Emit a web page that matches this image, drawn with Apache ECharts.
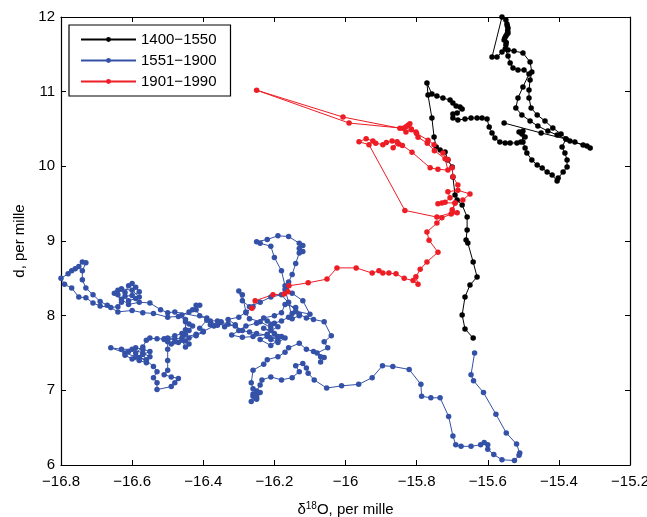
<!DOCTYPE html>
<html lang="en">
<head>
  <meta charset="UTF-8">
  <title>d vs d18O</title>
  <style>
    html, body { margin: 0; padding: 0; background: #fff; }
    #main { width: 647px; height: 517px; }
  </style>
</head>
<body>
<div id="main"></div>
<script src="https://cdn.jsdelivr.net/npm/echarts@6/dist/echarts.min.js"></script>
<script>
  // 读图得到的数据 [d18O, d]
  const seriesNames = ['1400−1550', '1551−1900', '1901−1990'];
  const xTicks = [-16.8, -15.2, 0.2];
  const yTicks = [6, 12, 1];

  const black = [
    [-15.554, 10.58], [-15.450, 10.447], [-15.380, 10.366], [-15.355, 10.326], [-15.332, 10.286],
    [-15.312, 10.246], [-15.321, 10.272], [-15.369, 10.339], [-15.394, 10.433], [-15.417, 10.514],
    [-15.439, 10.607], [-15.461, 10.688], [-15.478, 10.781], [-15.484, 10.915], [-15.484, 11.022],
    [-15.481, 11.156], [-15.476, 11.263], [-15.481, 11.397], [-15.501, 11.518], [-15.526, 11.545],
    [-15.543, 11.558], [-15.549, 11.625], [-15.548, 11.66], [-15.554, 11.692], [-15.552, 11.72],
    [-15.549, 11.746], [-15.546, 11.77], [-15.543, 11.786], [-15.544, 11.82], [-15.543, 11.853],
    [-15.545, 11.88], [-15.546, 11.906], [-15.549, 11.96], [-15.560, 12.0], [-15.588, 11.464],
    [-15.574, 11.464], [-15.560, 11.531], [-15.551, 11.571], [-15.543, 11.478], [-15.537, 11.384],
    [-15.529, 11.317], [-15.515, 11.29], [-15.498, 11.29], [-15.484, 11.237], [-15.501, 11.063],
    [-15.515, 10.915], [-15.521, 10.781], [-15.504, 10.688], [-15.481, 10.607], [-15.459, 10.54],
    [-15.431, 10.473], [-15.405, 10.42], [-15.380, 10.366], [-15.391, 10.259], [-15.383, 10.179],
    [-15.377, 10.085], [-15.377, 9.991], [-15.388, 9.924], [-15.402, 9.844], [-15.405, 9.804],
    [-15.419, 9.884], [-15.433, 9.924], [-15.447, 9.978], [-15.461, 10.018], [-15.476, 10.085],
    [-15.490, 10.179], [-15.495, 10.246], [-15.501, 10.326], [-15.504, 10.433], [-15.512, 10.46],
    [-15.501, 10.473], [-15.495, 10.393], [-15.507, 10.326], [-15.518, 10.313], [-15.537, 10.313],
    [-15.551, 10.313], [-15.566, 10.326], [-15.580, 10.38], [-15.588, 10.447], [-15.596, 10.527],
    [-15.602, 10.634], [-15.616, 10.647], [-15.630, 10.647], [-15.647, 10.647], [-15.664, 10.634],
    [-15.684, 10.621], [-15.698, 10.647], [-15.698, 10.701], [-15.686, 10.714], [-15.672, 10.768],
    [-15.678, 10.795], [-15.689, 10.808], [-15.698, 10.848], [-15.706, 10.888], [-15.726, 10.915],
    [-15.743, 10.942], [-15.757, 10.969], [-15.771, 11.116], [-15.768, 10.955], [-15.757, 10.647],
    [-15.751, 10.393], [-15.745, 10.259], [-15.734, 10.219], [-15.720, 10.192], [-15.712, 10.085],
    [-15.700, 9.991], [-15.698, 9.857], [-15.692, 9.616], [-15.686, 9.549], [-15.672, 9.482],
    [-15.658, 9.322], [-15.658, 9.148], [-15.661, 9.014], [-15.656, 8.973], [-15.641, 8.719],
    [-15.630, 8.518], [-15.650, 8.411], [-15.664, 8.25], [-15.672, 8.009], [-15.664, 7.822],
    [-15.641, 7.701]
  ];

  const blue = [
    [-15.637, 7.50], [-15.647, 7.21], [-15.64, 7.13], [-15.612, 6.97], [-15.577, 6.68],
    [-15.548, 6.43], [-15.519, 6.28], [-15.51, 6.16], [-15.512, 6.13], [-15.525, 6.06],
    [-15.56, 6.07], [-15.583, 6.14], [-15.60, 6.21], [-15.60, 6.27], [-15.61, 6.30],
    [-15.62, 6.27], [-15.647, 6.25], [-15.675, 6.25], [-15.69, 6.27], [-15.698, 6.39],
    [-15.71, 6.65], [-15.734, 6.90], [-15.76, 6.90], [-15.786, 6.92], [-15.788, 7.08],
    [-15.821, 7.28], [-15.867, 7.32], [-15.896, 7.33], [-15.925, 7.17], [-15.963, 7.08],
    [-16.011, 7.06], [-16.053, 7.03], [-16.088, 7.14], [-16.105, 7.23], [-16.11, 7.30],
    [-16.12, 7.36], [-16.14, 7.33], [-16.13, 7.25], [-16.15, 7.17], [-16.18, 7.14],
    [-16.21, 7.18], [-16.235, 7.14], [-16.24, 7.07], [-16.25, 6.99], [-16.26, 6.92],
    [-16.25, 6.88], [-16.26, 6.95], [-16.25, 6.90], [-16.265, 6.85], [-16.25, 6.93],
    [-16.24, 6.97], [-16.26, 7.02], [-16.265, 7.10], [-16.26, 7.27], [-16.23, 7.35],
    [-16.22, 7.41], [-16.19, 7.45], [-16.17, 7.51], [-16.16, 7.57], [-16.13, 7.63],
    [-16.11, 7.55], [-16.09, 7.52], [-16.07, 7.45], [-16.07, 7.38], [-16.06, 7.44],
    [-16.08, 7.50], [-16.05, 7.57], [-16.06, 7.65], [-16.04, 7.73], [-16.06, 7.92],
    [-16.09, 7.95], [-16.11, 7.97], [-16.13, 8.02], [-16.15, 8.03], [-16.16, 7.98],
    [-16.18, 7.93], [-16.20, 7.90], [-16.22, 7.93], [-16.21, 7.88], [-16.19, 7.85],
    [-16.21, 7.80], [-16.23, 7.83], [-16.20, 7.76], [-16.18, 7.72], [-16.21, 7.68],
    [-16.19, 7.64], [-16.17, 7.70], [-16.22, 7.72], [-16.24, 7.68], [-16.21, 7.60],
    [-16.19, 7.67], [-16.22, 7.75], [-16.26, 7.72], [-16.29, 7.71], [-16.32, 7.74],
    [-16.30, 7.80], [-16.28, 7.86], [-16.25, 7.90], [-16.23, 7.97], [-16.20, 8.00],
    [-16.18, 8.04], [-16.17, 8.15], [-16.14, 8.11], [-16.13, 8.00], [-16.15, 7.96],
    [-16.16, 8.18], [-16.17, 8.35], [-16.16, 8.45], [-16.15, 8.55], [-16.14, 8.70],
    [-16.13, 8.84], [-16.12, 8.86], [-16.13, 8.90], [-16.12, 8.94], [-16.13, 8.97],
    [-16.16, 9.06], [-16.19, 9.07], [-16.22, 9.02], [-16.25, 8.99], [-16.24, 8.97],
    [-16.21, 8.93], [-16.20, 8.78], [-16.18, 8.60], [-16.17, 8.40], [-16.15, 8.30],
    [-16.12, 8.20], [-16.10, 8.02], [-16.14, 8.06], [-16.18, 8.28], [-16.21, 8.25],
    [-16.24, 8.18], [-16.27, 8.12], [-16.29, 8.20], [-16.30, 8.33], [-16.29, 8.28],
    [-16.28, 8.05], [-16.30, 7.98], [-16.33, 7.95], [-16.31, 7.88], [-16.34, 7.85],
    [-16.36, 7.93], [-16.38, 7.93], [-16.36, 7.87], [-16.35, 7.92], [-16.38, 7.88],
    [-16.39, 7.94], [-16.41, 7.83], [-16.40, 7.78], [-16.42, 7.73], [-16.44, 7.70],
    [-16.45, 7.66], [-16.44, 7.62], [-16.45, 7.58], [-16.46, 7.67], [-16.45, 7.75],
    [-16.45, 7.81], [-16.45, 7.92], [-16.46, 8.01], [-16.44, 8.05], [-16.43, 8.08],
    [-16.42, 8.14], [-16.41, 8.14], [-16.42, 8.08], [-16.41, 8.00], [-16.39, 7.97],
    [-16.48, 8.05], [-16.50, 8.04], [-16.52, 8.08], [-16.55, 8.17], [-16.58, 8.18],
    [-16.61, 8.15], [-16.63, 8.22], [-16.65, 8.30], [-16.64, 8.34], [-16.62, 8.31],
    [-16.61, 8.40], [-16.60, 8.43], [-16.59, 8.38], [-16.58, 8.32], [-16.60, 8.27],
    [-16.62, 8.26], [-16.61, 8.20], [-16.59, 8.23], [-16.58, 8.25], [-16.60, 8.34],
    [-16.63, 8.36], [-16.64, 8.28], [-16.63, 8.18], [-16.64, 8.12], [-16.66, 8.11],
    [-16.69, 8.13], [-16.71, 8.17], [-16.73, 8.24], [-16.75, 8.25], [-16.77, 8.37],
    [-16.79, 8.42], [-16.80, 8.50], [-16.78, 8.56], [-16.77, 8.60], [-16.76, 8.63],
    [-16.75, 8.66], [-16.74, 8.72], [-16.73, 8.71], [-16.74, 8.60], [-16.74, 8.48],
    [-16.73, 8.37], [-16.71, 8.28], [-16.69, 8.19], [-16.67, 8.14], [-16.64, 8.05],
    [-16.60, 8.07], [-16.57, 8.04], [-16.54, 8.03], [-16.50, 7.98], [-16.47, 7.99],
    [-16.45, 7.95], [-16.44, 7.89], [-16.43, 7.86], [-16.44, 7.80], [-16.46, 7.76],
    [-16.48, 7.73], [-16.50, 7.70], [-16.51, 7.68], [-16.50, 7.65], [-16.49, 7.62],
    [-16.48, 7.65], [-16.47, 7.64], [-16.48, 7.69], [-16.51, 7.69], [-16.53, 7.69],
    [-16.55, 7.70], [-16.56, 7.67], [-16.57, 7.58], [-16.59, 7.50], [-16.58, 7.44],
    [-16.56, 7.41], [-16.57, 7.48], [-16.55, 7.52], [-16.57, 7.55], [-16.59, 7.57],
    [-16.61, 7.52], [-16.62, 7.47], [-16.60, 7.42], [-16.58, 7.40], [-16.56, 7.37],
    [-16.55, 7.45], [-16.57, 7.50], [-16.60, 7.55], [-16.63, 7.55], [-16.66, 7.57],
    [-16.62, 7.50], [-16.59, 7.45], [-16.56, 7.40], [-16.54, 7.32], [-16.53, 7.25],
    [-16.54, 7.17], [-16.53, 7.10], [-16.53, 7.01], [-16.49, 7.05], [-16.48, 7.10],
    [-16.47, 7.16], [-16.49, 7.18], [-16.51, 7.21], [-16.50, 7.27], [-16.50, 7.40],
    [-16.50, 7.55], [-16.50, 7.68], [-16.46, 7.70], [-16.42, 7.75], [-16.40, 7.79],
    [-16.37, 7.86], [-16.35, 7.91], [-16.33, 7.89], [-16.31, 7.86], [-16.29, 7.80],
    [-16.27, 7.78], [-16.25, 7.76], [-16.22, 7.74], [-16.19, 7.72], [-16.21, 7.84],
    [-16.24, 7.92], [-16.27, 7.96], [-16.28, 8.04], [-16.26, 8.12]
  ];

  const red = [
    [-16.263, 8.10], [-16.254, 8.20], [-16.204, 8.28], [-16.173, 8.29], [-16.162, 8.32],
    [-16.159, 8.40], [-16.105, 8.44], [-16.052, 8.49], [-16.024, 8.64], [-15.970, 8.64],
    [-15.925, 8.57], [-15.906, 8.60], [-15.895, 8.57], [-15.878, 8.57], [-15.858, 8.56],
    [-15.835, 8.50], [-15.810, 8.47], [-15.796, 8.42], [-15.802, 8.52], [-15.790, 8.62],
    [-15.771, 8.72], [-15.740, 8.85], [-15.765, 9.01], [-15.771, 9.12], [-15.743, 9.24],
    [-15.729, 9.31], [-15.703, 9.36], [-15.686, 9.38], [-15.700, 9.42], [-15.692, 9.51],
    [-15.729, 9.51], [-15.740, 9.50], [-15.720, 9.52], [-15.706, 9.58], [-15.712, 9.66],
    [-15.684, 9.68], [-15.650, 9.63], [-15.670, 9.55], [-15.692, 9.51], [-15.700, 9.38],
    [-15.743, 9.32], [-15.833, 9.41], [-15.934, 10.29], [-15.962, 10.33], [-15.942, 10.37],
    [-15.923, 10.34], [-15.915, 10.31], [-15.895, 10.29], [-15.885, 10.32], [-15.869, 10.34],
    [-15.850, 10.30], [-15.866, 10.25], [-15.855, 10.33], [-15.840, 10.28], [-15.813, 10.19],
    [-15.762, 9.98], [-15.740, 9.96], [-15.712, 9.95], [-15.720, 10.10], [-15.750, 10.21],
    [-15.770, 10.31], [-15.796, 10.39], [-15.802, 10.46], [-15.815, 10.50], [-15.824, 10.55],
    [-15.819, 10.57], [-15.830, 10.53], [-15.838, 10.51], [-15.990, 10.58], [-16.250, 11.02],
    [-16.007, 10.66], [-15.847, 10.51], [-15.830, 10.46], [-15.815, 10.49], [-15.800, 10.44],
    [-15.768, 10.35], [-15.751, 10.29], [-15.726, 10.18], [-15.712, 10.09], [-15.700, 9.98],
    [-15.698, 9.86], [-15.684, 9.75]
  ];

  const colors = ['#000000', '#3451a8', '#ee1c25'];
  const font = 'Liberation Sans, Arial, Helvetica, sans-serif';

  function fmt(v) {
    return String(+v.toFixed(1)).replace('-', '\u2212');
  }

  let chart = echarts.init(document.getElementById('main'));

  const axisBase = {
    axisLine: { lineStyle: { color: '#000', width: 1.2 } },
    axisTick: { inside: true, length: 5, lineStyle: { color: '#000' } },
    splitLine: { show: false }
  };

  let option = {
    animation: false,
    backgroundColor: '#fff',
    color: colors,
    grid: { left: 61, right: 17, top: 17, bottom: 52, outerBoundsMode: 'none' },
    legend: {
      left: 69, top: 25,
      orient: 'vertical',
      padding: [7, 14, 7, 11],
      itemGap: 6,
      itemWidth: 55,
      itemHeight: 6,
      borderColor: '#000',
      borderWidth: 1.2,
      borderRadius: 0,
      backgroundColor: '#fff',
      textStyle: { fontSize: 15, color: '#000', fontFamily: font },
      data: seriesNames
    },
    xAxis: [
      Object.assign({}, axisBase, {
        type: 'value', min: xTicks[0], max: xTicks[1], interval: xTicks[2],
        axisLabel: { fontSize: 15, color: '#000', fontFamily: font, margin: 9, formatter: fmt },
        name: '{a|δ}{s|18}{a|O, per mille}',
        nameLocation: 'middle', nameGap: 36,
        nameTextStyle: {
          fontFamily: font, color: '#000',
          rich: {
            a: { fontSize: 15, fontFamily: font, color: '#000' },
            s: { fontSize: 10, fontFamily: font, color: '#000', padding: [0, 0, 8, 0] }
          }
        }
      }),
      Object.assign({}, axisBase, {
        type: 'value', position: 'top', min: xTicks[0], max: xTicks[1], interval: xTicks[2],
        axisLabel: { show: false }
      })
    ],
    yAxis: [
      Object.assign({}, axisBase, {
        type: 'value', min: yTicks[0], max: yTicks[1], interval: yTicks[2],
        axisLabel: { fontSize: 15, color: '#000', fontFamily: font, margin: 6 },
        name: 'd, per mille',
        nameLocation: 'middle', nameGap: 34,
        nameTextStyle: { fontSize: 15, color: '#000', fontFamily: font }
      }),
      Object.assign({}, axisBase, {
        type: 'value', position: 'right', min: yTicks[0], max: yTicks[1], interval: yTicks[2],
        axisLabel: { show: false }
      })
    ],
    series: [black, blue, red].map((d, i) => ({
      name: seriesNames[i],
      type: 'line',
      data: d,
      symbol: 'circle',
      symbolSize: 5.5,
      showAllSymbol: true,
      lineStyle: { width: 1, color: colors[i] },
      itemStyle: { color: colors[i] },
      emphasis: { disabled: true }
    }))
  };
  chart.setOption(option);
</script>
</body>
</html>
